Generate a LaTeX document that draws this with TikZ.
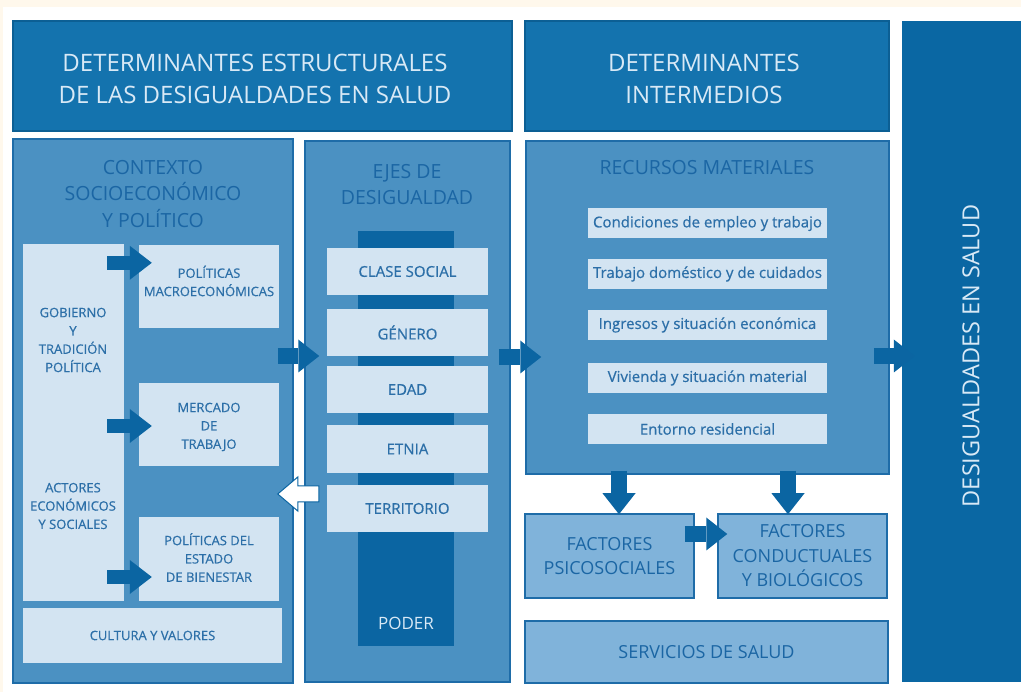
\documentclass[tikz,border=0pt]{standalone}
\usepackage{fontspec}
\setmainfont{Open Sans}
\newfontfamily\semibf[FakeBold=0.6]{Open Sans}
\usetikzlibrary{arrows.meta,calc}
\definecolor{cream}{HTML}{FFF8EC}
\definecolor{hdr}{HTML}{1473AE}
\definecolor{hdrbd}{HTML}{0C5F94}
\definecolor{hdrtx}{HTML}{D8E9F6}
\definecolor{desfill}{HTML}{0A67A3}
\definecolor{pmed}{HTML}{4B91C2}
\definecolor{pbord}{HTML}{1E6CA8}
\definecolor{lite}{HTML}{D3E4F2}
\definecolor{ltxt}{HTML}{2C6FA8}
\definecolor{ttl}{HTML}{1B66A4}
\definecolor{dk}{HTML}{0B65A2}
\definecolor{fact}{HTML}{80B3DA}
\begin{document}
\begin{tikzpicture}[x=1pt,y=-1pt,
  hdrbox/.style={draw=hdrbd, fill=hdr, line width=1.2pt, inner sep=0pt},
  hdrtxt/.style={text=hdrtx, align=center, inner sep=0pt, font=\fontsize{24}{32}\selectfont},
  panel/.style={draw=pbord, fill=pmed, line width=1.5pt, inner sep=0pt},
  ptitle/.style={text=ttl, align=center, inner sep=0pt, font=\fontsize{19.5}{26.5}\selectfont},
  lbox/.style={fill=lite, inner sep=0pt, text=ltxt, align=center},
  ltext/.style={text=ltxt, align=center, inner sep=0pt, smalltxt},
  smalltxt/.style={font=\semibf\fontsize{13}{18.3}\selectfont},
  axtxt/.style={font=\semibf\fontsize{15}{18}\selectfont},
  restxt/.style={font=\semibf\fontsize{15}{18}\selectfont},
  factbox/.style={draw=pbord, fill=fact, line width=1.5pt, inner sep=0pt, text=ttl, align=center, font=\fontsize{18}{24.5}\selectfont},
  barrow/.style={draw=dk, line width=14pt, -{Triangle[length=22pt,width=34pt,line width=0pt]}},
  bigarrow/.style={draw=dk, line width=16pt, -{Triangle[length=21pt,width=33pt,line width=0pt]}},
  warrow/.style={draw=dk, fill=white, line width=1pt, line join=miter}
]
\useasboundingbox (0,0) rectangle (1021,692);
\clip (0,0) rectangle (1021,692);
\fill[cream] (0,0) rectangle (1021,692);
\fill[white] (3,7) rectangle (1021,692);

% headers
\node[hdrbox, minimum width=499pt, minimum height=110pt] (h1) at (262.5,76) {};
\node[hdrtxt] (h1t) at (255,79) {DETERMINANTES ESTRUCTURALES\\DE LAS DESIGUALDADES EN SALUD};
\node[hdrbox, minimum width=364pt, minimum height=110pt] (h2) at (707,76) {};
\node[hdrtxt] (h2t) at (704,79) {DETERMINANTES\\INTERMEDIOS};
\node[fill=desfill, inner sep=0pt, minimum width=140pt, minimum height=661pt] (des) at (972,351.5) {};
\node[text=hdrtx, rotate=90, inner sep=0pt, font=\fontsize{23.5}{28}\selectfont] (dest) at (971,356) {DESIGUALDADES EN SALUD};

% contexto panel
\node[panel, minimum width=280pt, minimum height=544pt] (ctx) at (153,411) {};
\node[ptitle] (ctxt) at (153,194) {CONTEXTO\\SOCIOECONÓMICO\\Y POLÍTICO};
\node[lbox, minimum width=101pt, minimum height=357pt] (govcol) at (73.5,422.5) {};
\node[ltext] (gob) at (73,340) {GOBIERNO\\Y\\TRADICIÓN\\POLÍTICA};
\node[ltext] (act) at (73,506) {ACTORES\\ECONÓMICOS\\Y SOCIALES};
\node[lbox, minimum width=140pt, minimum height=83pt] (pmacro) at (209,286.5) {};
\node[ltext] (pmacrot) at (209,281) {POLÍTICAS\\MACROECONÓMICAS};
\node[lbox, minimum width=140pt, minimum height=83pt] (mercado) at (209,424.5) {};
\node[ltext] (mercadot) at (209,427) {MERCADO\\DE\\TRABAJO};
\node[lbox, minimum width=140pt, minimum height=84pt] (pestado) at (209,559) {};
\node[ltext] (pestadot) at (209,557.5) {POLÍTICAS DEL\\ESTADO\\DE BIENESTAR};
\node[lbox, smalltxt, minimum width=259pt, minimum height=55pt] (cultura) at (152.5,635.5) {CULTURA Y VALORES};

\draw[barrow] ($(govcol.east |- pmacro.north)+(-17,18)$) -- ($(pmacro.north west)+(13,18)$);
\draw[barrow] ($(govcol.east |- mercado.west)+(-17,1.5)$) -- ($(mercado.west)+(13,1.5)$);
\draw[barrow] ($(govcol.east |- pestado.west)+(-17,18)$) -- ($(pestado.west)+(13,18)$);

% ejes panel
\node[panel, minimum width=205pt, minimum height=541pt] (ejes) at (407.5,411.5) {};
\node[ptitle] (ejest) at (407,184.5) {EJES DE\\DESIGUALDAD};
\node[fill=dk, inner sep=0pt, minimum width=96pt, minimum height=415pt] (poder) at (406,438.5) {};
\node[text=hdrtx, inner sep=0pt, font=\fontsize{17}{20}\selectfont] (podert) at (406,623) {PODER};
\node[lbox, axtxt, minimum width=161pt, minimum height=47pt] (clase) at (407.5,271.5) {CLASE SOCIAL};
\node[lbox, axtxt, minimum width=161pt, minimum height=47pt] (genero) at (407.5,332.5) {GÉNERO};
\node[lbox, axtxt, minimum width=161pt, minimum height=47pt] (edad) at (407.5,389.5) {EDAD};
\node[lbox, axtxt, minimum width=161pt, minimum height=48pt] (etnia) at (407.5,449) {ETNIA};
\node[lbox, axtxt, minimum width=161pt, minimum height=47pt] (territ) at (407.5,508.5) {TERRITORIO};

% recursos panel
\node[panel, minimum width=363pt, minimum height=333pt] (rec) at (707.5,307.5) {};
\node[ptitle] (rect) at (707,168) {RECURSOS MATERIALES};
\node[lbox, restxt, minimum width=239pt, minimum height=30pt] (r1) at (707.5,223.5) {Condiciones de empleo y trabajo};
\node[lbox, restxt, minimum width=239pt, minimum height=30pt] (r2) at (707.5,274) {Trabajo doméstico y de cuidados};
\node[lbox, restxt, minimum width=239pt, minimum height=30pt] (r3) at (707.5,325) {Ingresos y situación económica};
\node[lbox, restxt, minimum width=239pt, minimum height=30pt] (r4) at (707.5,378) {Vivienda y situación material};
\node[lbox, restxt, minimum width=239pt, minimum height=30pt] (r5) at (707.5,429) {Entorno residencial};

% factor boxes
\node[factbox, minimum width=169pt, minimum height=84pt] (psico) at (609.5,556) {FACTORES\\PSICOSOCIALES};
\node[factbox, minimum width=169pt, minimum height=84pt] (cond) at (802.5,556) {FACTORES\\CONDUCTUALES\\Y BIOLÓGICOS};
\node[factbox, minimum width=363pt, minimum height=62pt] (serv) at (706.5,652) {SERVICIOS DE SALUD};

% main arrows
\draw[bigarrow] ($(ctx.east)+(-16,-55)$) -- ($(ejes.west)+(15,-55.5)$);
\draw[bigarrow] ($(ejes.east)+(-12,-54.5)$) -- ($(rec.west)+(16,49.5)$);
\draw[bigarrow] ($(rec.east)+(-16,48.5)$) -- ($(des.west)+(13,4.5)$);
\draw[bigarrow] ($(rec.south)+(-88.5,-4)$) -- ($(psico.north)+(9.5,1)$);
\draw[bigarrow] ($(rec.south)+(80.5,-4)$) -- ($(cond.north)+(-14.5,1)$);
\draw[bigarrow] ($(psico.east)+(-10,-22)$) -- ($(cond.west)+(10,-22)$);

% white feedback arrow from ejes to contexto
\coordinate (wa) at ($(ctx.east |- territ.west)+(-16,-14.5)$);
\draw[warrow] (wa) -- ++(20,-17) -- ++(0,9) -- ++(21,0) -- ++(0,16) -- ++(-21,0) -- ++(0,9) -- cycle;
\end{tikzpicture}
\end{document}
